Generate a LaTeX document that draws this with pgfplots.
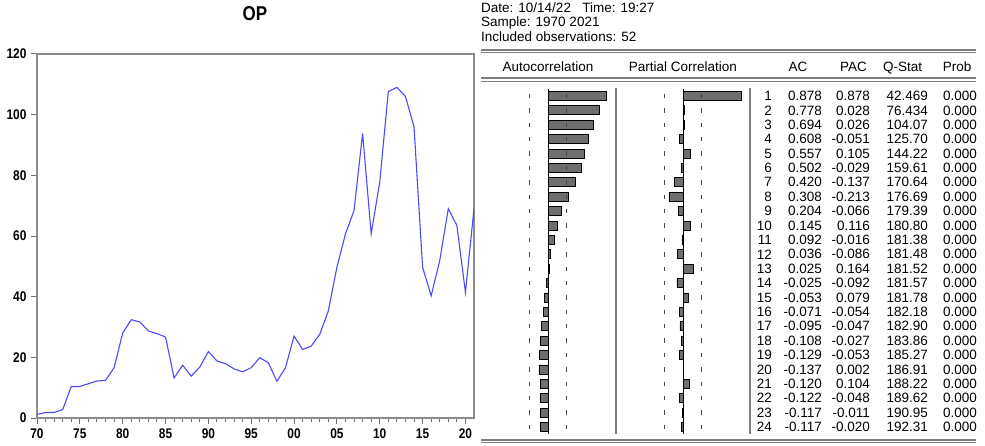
\documentclass[border=0pt]{standalone}
\usepackage{fontspec}
\setmainfont{Liberation Sans}
\newfontfamily\condfont[FakeStretch=0.85]{Liberation Sans}
\usepackage{pgfplots}
\usepackage{pgfplotstable}
\pgfplotsset{compat=1.18}

\definecolor{axgray}{RGB}{140,140,140}
\definecolor{opblue}{RGB}{75,75,250}
\definecolor{barfill}{RGB}{110,110,110}
\definecolor{sepgray}{RGB}{125,125,125}
\definecolor{dashgray}{RGB}{70,70,70}

\newcommand\tabfont{\fontsize{13.5}{14}\selectfont}
\newcommand\tickfont{\condfont\bfseries\fontsize{14}{14}\selectfont}
\newcommand\titlefont{\condfont\bfseries\fontsize{20}{20}\selectfont}

\pgfplotstableread{
year op
1970 1.2
1971 1.8
1972 1.8
1973 2.8
1974 10.4
1975 10.4
1976 11.3
1977 12.2
1978 12.4
1979 16.6
1980 28.0
1981 32.4
1982 31.7
1983 28.7
1984 27.8
1985 26.7
1986 13.2
1987 17.4
1988 13.8
1989 16.8
1990 21.9
1991 18.8
1992 17.9
1993 16.2
1994 15.2
1995 16.6
1996 19.9
1997 18.2
1998 12.1
1999 16.6
2000 27.0
2001 22.6
2002 23.7
2003 27.6
2004 35.3
2005 49.7
2006 60.7
2007 68.4
2008 93.8
2009 60.7
2010 77.8
2011 107.6
2012 109.0
2013 106.0
2014 96.0
2015 49.7
2016 40.3
2017 51.9
2018 69.0
2019 63.5
2020 41.4
2021 69.0
}\optable

\pgfplotstableread{
lag ac pac q prob lo hi
1 0.878 0.878 42.469 0.000 -0.2774 0.2774
2 0.778 0.028 76.434 0.000 -0.2774 0.2774
3 0.694 0.026 104.07 0.000 -0.2774 0.2774
4 0.608 -0.051 125.70 0.000 -0.2774 0.2774
5 0.557 0.105 144.22 0.000 -0.2774 0.2774
6 0.502 -0.029 159.61 0.000 -0.2774 0.2774
7 0.420 -0.137 170.64 0.000 -0.2774 0.2774
8 0.308 -0.213 176.69 0.000 -0.2774 0.2774
9 0.204 -0.066 179.39 0.000 -0.2774 0.2774
10 0.145 0.116 180.80 0.000 -0.2774 0.2774
11 0.092 -0.016 181.38 0.000 -0.2774 0.2774
12 0.036 -0.086 181.48 0.000 -0.2774 0.2774
13 0.025 0.164 181.52 0.000 -0.2774 0.2774
14 -0.025 -0.092 181.57 0.000 -0.2774 0.2774
15 -0.053 0.079 181.78 0.000 -0.2774 0.2774
16 -0.071 -0.054 182.18 0.000 -0.2774 0.2774
17 -0.095 -0.047 182.90 0.000 -0.2774 0.2774
18 -0.108 -0.027 183.86 0.000 -0.2774 0.2774
19 -0.129 -0.053 185.27 0.000 -0.2774 0.2774
20 -0.137 0.002 186.91 0.000 -0.2774 0.2774
21 -0.120 0.104 188.22 0.000 -0.2774 0.2774
22 -0.122 -0.048 189.62 0.000 -0.2774 0.2774
23 -0.117 -0.011 190.95 0.000 -0.2774 0.2774
24 -0.117 -0.020 192.31 0.000 -0.2774 0.2774
}\corr

\pgfplotsset{
  corrpanel/.style={
    scale only axis, anchor=south west,
    width=132pt, height=345.4pt,
    xmin=-1, xmax=1, ymin=0.5, ymax=24.5,
    y dir=reverse, hide axis, clip=false,
  },
  numcol/.style={
    draw=none, mark=none, nodes near coords,
    point meta=explicit symbolic,
    nodes near coords align={anchor=east},
    every node near coord/.style={anchor=east, inner sep=0pt, font=\tabfont, text=black},
  },
}

\begin{document}
\begin{tikzpicture}
\path[use as bounding box] (0pt,0pt) rectangle (985pt,445pt);

% ---------- left: OP line chart ----------
\node[inner sep=0pt, font=\titlefont] at (255pt,431pt) {OP};
\begin{axis}[
  at={(37pt,27pt)}, anchor=south west,
  scale only axis, width=437pt, height=364pt,
  xmin=1970, xmax=2021, ymin=0, ymax=120,
  axis line style={draw=axgray, line width=1.3pt},
  tick style={draw=axgray!80!black, line width=1pt},
  tick align=outside, xtick pos=left, ytick pos=left,
  xtick={1970,1975,...,2020},
  xticklabels={70,75,80,85,90,95,00,05,10,15,20},
  minor x tick num=4,
  ytick={0,20,...,120},
  yticklabels={0,20,40,60,80,100,120},
  major tick length=6pt, minor tick length=4pt,
  tick label style={font=\tickfont, text=black},
  xticklabel style={yshift=-1pt},
  yticklabel style={xshift=-1pt},
]
\addplot[opblue, line width=1.1pt, mark=none] table[x=year, y=op] {\optable};
\end{axis}

% ---------- right: correlogram ----------
\begin{scope}[font=\tabfont]
\node[anchor=base west, inner sep=0pt] at (481pt,432pt) {Date: 10/14/22\ \ \ Time: 19:27};
\node[anchor=base west, inner sep=0pt] at (481pt,418pt) {Sample: 1970 2021};
\node[anchor=base west, inner sep=0pt] at (481pt,403pt) {Included observations: 52};

\draw[sepgray, line width=2pt] (481pt,395pt) -- (976pt,395pt);
\draw[sepgray, line width=1pt] (481pt,392.3pt) -- (976pt,392.3pt);

\node[anchor=base, inner sep=0pt] at (548pt,373pt) {Autocorrelation};
\node[anchor=base, inner sep=0pt] at (683pt,373pt) {Partial Correlation};
\node[anchor=base, inner sep=0pt] at (798pt,373pt) {AC};
\node[anchor=base, inner sep=0pt] at (853.5pt,373pt) {PAC};
\node[anchor=base, inner sep=0pt] at (902.5pt,373pt) {Q-Stat};
\node[anchor=base, inner sep=0pt] at (957pt,373pt) {Prob};

\draw[sepgray, line width=2pt] (481pt,366.5pt) -- (976pt,366.5pt);
\draw[sepgray, line width=1pt] (481pt,363.6pt) -- (976pt,363.6pt);

\draw[sepgray, line width=2pt] (481pt,5pt) -- (976pt,5pt);
\draw[sepgray, line width=1pt] (481pt,2.2pt) -- (976pt,2.2pt);

\draw[sepgray, line width=1.6pt] (616pt,357pt) -- (616pt,11pt);
\draw[sepgray, line width=1.6pt] (750pt,357pt) -- (750pt,11pt);
\end{scope}

% Autocorrelation bars
\begin{axis}[corrpanel, at={(482pt,10.8pt)}]
\addplot[only marks, mark=|, mark size=2.2pt, dashgray, line width=1.2pt] table[x=lo, y=lag] {\corr};
\addplot[only marks, mark=|, mark size=2.2pt, dashgray, line width=1.2pt] table[x=hi, y=lag] {\corr};
\addplot[black, line width=0.9pt, mark=none] coordinates {(0,0.5) (0,24.5)};
\addplot[xbar, bar width=9pt, fill=barfill, draw=black, line width=0.8pt] table[x=ac, y=lag] {\corr};
\end{axis}

% Partial correlation bars
\begin{axis}[corrpanel, at={(617pt,10.8pt)}]
\addplot[only marks, mark=|, mark size=2.2pt, dashgray, line width=1.2pt] table[x=lo, y=lag] {\corr};
\addplot[only marks, mark=|, mark size=2.2pt, dashgray, line width=1.2pt] table[x=hi, y=lag] {\corr};
\addplot[black, line width=0.9pt, mark=none] coordinates {(0,0.5) (0,24.5)};
\addplot[xbar, bar width=9pt, fill=barfill, draw=black, line width=0.8pt] table[x=pac, y=lag] {\corr};
\end{axis}

% Numeric columns
\begin{axis}[scale only axis, anchor=south west, at={(750pt,10.8pt)},
  width=235pt, height=345.4pt, xmin=750, xmax=985, ymin=0.5, ymax=24.5,
  y dir=reverse, hide axis, clip=false]
\addplot[numcol] table[x expr=772, y=lag, meta=lag] {\corr};
\addplot[numcol] table[x expr=822, y=lag, meta=ac] {\corr};
\addplot[numcol] table[x expr=870, y=lag, meta=pac] {\corr};
\addplot[numcol] table[x expr=928, y=lag, meta=q] {\corr};
\addplot[numcol] table[x expr=977, y=lag, meta=prob] {\corr};
\end{axis}
\end{tikzpicture}
\end{document}
